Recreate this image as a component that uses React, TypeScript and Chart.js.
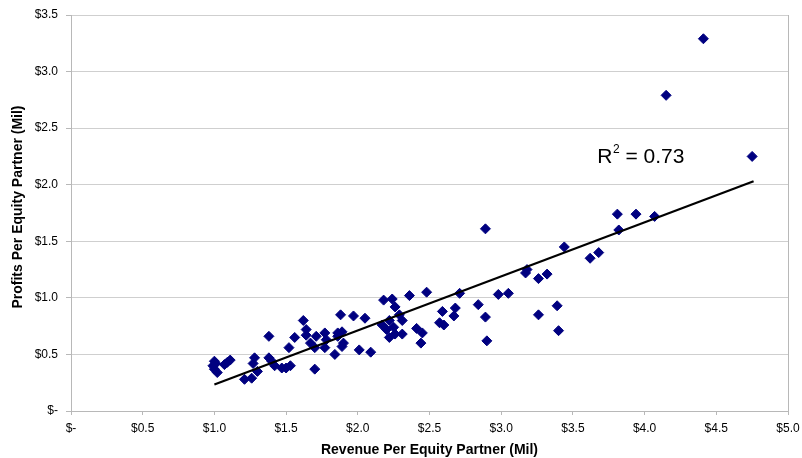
import React, { useEffect, useRef } from 'react';
import { Chart, registerables } from 'chart.js';

Chart.register(...registerables);

// Revenue per equity partner ($ Mil)
const revenue = [
  1.0, 1.0, 1.02, 0.99, 1.01, 1.07, 1.09, 1.11, 1.21, 1.26,
  1.28, 1.27, 1.3, 1.38, 1.38, 1.4, 1.42, 1.47, 1.5, 1.53,
  1.52, 1.56, 1.62, 1.64, 1.64, 1.67, 1.7, 1.71, 1.7, 1.77,
  1.77, 1.78, 1.84, 1.86, 1.88, 1.89, 1.86, 1.9, 1.89, 1.97,
  2.05, 2.01, 2.09, 2.18, 2.24, 2.26, 2.36, 2.48, 2.17, 2.22,
  2.29, 2.31, 2.22, 2.26, 2.31, 2.25, 2.2, 2.41, 2.45, 2.44,
  2.59, 2.68, 2.67, 2.57, 2.6, 2.71, 2.84, 2.89, 2.89, 2.9,
  2.98, 3.05, 3.17, 3.18, 3.26, 3.32, 3.26, 3.39, 3.4, 3.44,
  3.62, 3.68, 3.81, 3.82, 3.94, 4.07, 4.15, 4.41, 4.75,
];

// Profits per equity partner ($ Mil)
const profits = [
  0.44, 0.37, 0.34, 0.4, 0.42, 0.41, 0.43, 0.45, 0.28, 0.29,
  0.47, 0.42, 0.35, 0.66, 0.47, 0.44, 0.4, 0.38, 0.38, 0.4,
  0.56, 0.65, 0.8, 0.72, 0.67, 0.6, 0.56, 0.66, 0.37, 0.69,
  0.56, 0.63, 0.5, 0.69, 0.85, 0.7, 0.66, 0.6, 0.57, 0.84,
  0.82, 0.54, 0.52, 0.98, 0.99, 0.92, 1.02, 1.05, 0.76, 0.8,
  0.85, 0.8, 0.65, 0.68, 0.68, 0.74, 0.72, 0.73, 0.69, 0.6,
  0.88, 0.91, 0.84, 0.78, 0.76, 1.04, 0.94, 1.61, 0.83, 0.62,
  1.03, 1.04, 1.22, 1.25, 1.17, 1.21, 0.85, 0.93, 0.71, 1.45,
  1.35, 1.4, 1.74, 1.6, 1.74, 1.72, 2.79, 3.29, 2.25,
];

// Linear trend line end points
const trendRevenue = [1.0, 4.76];
const trendProfits = [0.235, 2.03];

const xTickLabels = ['$-', '$0.5', '$1.0', '$1.5', '$2.0', '$2.5', '$3.0', '$3.5', '$4.0', '$4.5', '$5.0'];
const yTickLabels = ['$-', '$0.5', '$1.0', '$1.5', '$2.0', '$2.5', '$3.0', '$3.5'];

const xTitle = 'Revenue Per Equity Partner (Mil)';
const yTitle = 'Profits Per Equity Partner (Mil)';
const rSquaredValue = '0.73';
const rSquaredAt = { x: 3.67, y: 2.19 };

const FONT = 'Arial, "Liberation Sans", sans-serif';

export default function App() {
  const canvasRef = useRef<HTMLCanvasElement | null>(null);

  useEffect(() => {
    document.body.style.margin = '0';
    const canvas = canvasRef.current;
    if (!canvas) return;

    const overlay = {
      id: 'overlay',
      afterDraw(chart: any) {
        const { ctx, chartArea, scales } = chart;
        ctx.save();
        // right border of plot area
        ctx.strokeStyle = '#b8b8b8';
        ctx.lineWidth = 1;
        ctx.beginPath();
        const rx = Math.round(chartArea.right) + 0.5;
        ctx.moveTo(rx, chartArea.top);
        ctx.lineTo(rx, chartArea.bottom);
        ctx.stroke();

        // axis titles
        ctx.fillStyle = '#000';
        ctx.font = `bold 14px ${FONT}`;
        ctx.textAlign = 'center';
        ctx.textBaseline = 'middle';
        ctx.fillText(xTitle, (chartArea.left + chartArea.right) / 2, 450);
        ctx.save();
        ctx.translate(18, 207);
        ctx.rotate(-Math.PI / 2);
        ctx.fillText(yTitle, 0, 0);
        ctx.restore();

        // R² annotation
        const px = scales.x.getPixelForValue(rSquaredAt.x);
        const py = scales.y.getPixelForValue(rSquaredAt.y);
        ctx.textAlign = 'left';
        ctx.textBaseline = 'alphabetic';
        ctx.font = `21px ${FONT}`;
        ctx.fillText('R', px, py);
        let w = ctx.measureText('R').width;
        ctx.font = `12px ${FONT}`;
        ctx.fillText('2', px + w + 0.5, py - 10);
        w += ctx.measureText('2').width + 0.5;
        ctx.font = `21px ${FONT}`;
        ctx.fillText(' = ' + rSquaredValue, px + w, py);
        ctx.restore();
      },
    };

    const chart = new Chart(canvas, {
      type: 'scatter',
      data: {
        datasets: [
          {
            label: 'Trend',
            data: trendRevenue.map((x, i) => ({ x, y: trendProfits[i] })),
            showLine: true,
            borderColor: '#000',
            borderWidth: 2.2,
            pointRadius: 0,
            order: 0,
          },
          {
            label: 'Firms',
            data: revenue.map((x, i) => ({ x, y: profits[i] })),
            pointStyle: 'rectRot',
            pointRadius: 5,
            borderWidth: 1,
            backgroundColor: '#000080',
            borderColor: '#000080',
            order: 1,
          },
        ],
      },
      options: {
        responsive: false,
        animation: false,
        layout: { padding: { top: 15, right: 14, left: 0, bottom: 0 } },
        plugins: {
          legend: { display: false },
          tooltip: { enabled: false },
        },
        scales: {
          x: {
            type: 'linear',
            min: 0,
            max: 5,
            ticks: {
              stepSize: 0.5,
              color: '#000',
              font: { family: FONT, size: 12 },
              padding: 6,
              maxRotation: 0,
              callback: (v: any) => xTickLabels[Math.round(Number(v) / 0.5)],
            },
            grid: {
              display: true,
              drawOnChartArea: false,
              drawTicks: true,
              tickLength: 4,
              color: '#b8b8b8',
            },
            border: { color: '#b8b8b8', width: 1 },
            afterFit: (s: any) => {
              s.height = 47;
              s.paddingLeft = 0;
              s.paddingRight = 0;
            },
          },
          y: {
            type: 'linear',
            min: 0,
            max: 3.5,
            ticks: {
              stepSize: 0.5,
              color: '#000',
              font: { family: FONT, size: 12 },
              padding: 8,
              callback: (v: any) => yTickLabels[Math.round(Number(v) / 0.5)],
            },
            grid: {
              color: '#cfcfcf',
              tickColor: '#b8b8b8',
              tickLength: 5,
            },
            border: { color: '#b8b8b8', width: 1 },
            afterFit: (s: any) => {
              s.width = 71;
              s.paddingTop = 0;
              s.paddingBottom = 0;
            },
          },
        },
      },
      plugins: [overlay],
    });

    return () => chart.destroy();
  }, []);

  return (
    <div style={{ width: 802, height: 458, background: '#fff' }}>
      <canvas ref={canvasRef} width={802} height={458} style={{ display: 'block' }} />
    </div>
  );
}
